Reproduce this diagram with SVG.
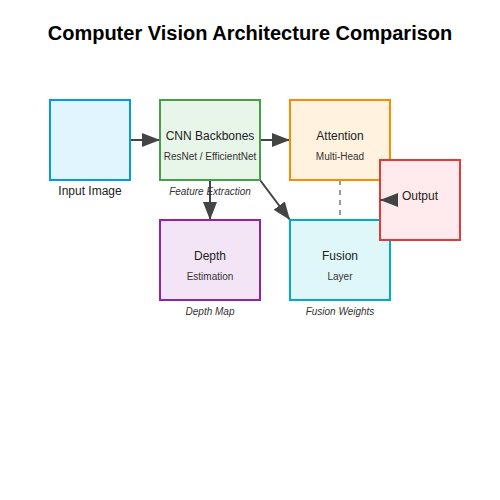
<svg xmlns="http://www.w3.org/2000/svg" width="500" height="500" viewBox="0 0 500 500">
<style>
.t{font-family:"Liberation Sans",Arial,sans-serif;fill:#222;text-anchor:middle}
.title{font-size:20px;font-weight:bold;fill:#000}
.lbl{font-size:12px}
.sub{font-size:10px;fill:#333}
.it{font-size:10px;font-style:italic;fill:#333}
.box{stroke-width:2}
.c{stroke:#444;stroke-width:2;fill:none}
</style>
<defs>
<marker id="ah" markerUnits="userSpaceOnUse" markerWidth="20" markerHeight="14" refX="18" refY="7" orient="auto">
<polygon points="0,0 18,7 0,14" fill="#444"/>
</marker>
</defs>
<rect width="500" height="500" fill="#fff"/>
<text class="t title" x="250" y="40">Computer Vision Architecture Comparison</text>
<g id="connectors">
<line class="c" x1="130" y1="140" x2="160" y2="140" marker-end="url(#ah)"/>
<line class="c" x1="260" y1="140" x2="290" y2="140" marker-end="url(#ah)"/>
<line class="c" x1="210" y1="180" x2="210" y2="220" marker-end="url(#ah)"/>
<line class="c" x1="260" y1="180" x2="290" y2="220" marker-end="url(#ah)"/>
<line x1="340" y1="180" x2="340" y2="220" stroke="#999" stroke-width="2" stroke-dasharray="5,5"/>
</g>
<g id="input">
<rect class="box" x="50" y="100" width="80" height="80" fill="#e1f5fe" stroke="#039be5"/>
<text class="t lbl" x="90" y="195">Input Image</text>
</g>
<g id="cnn">
<rect class="box" x="160" y="100" width="100" height="80" fill="#e8f5e9" stroke="#43a047"/>
<text class="t lbl" x="210" y="140">CNN Backbones</text>
<text class="t sub" x="210" y="160">ResNet / EfficientNet</text>
<text class="t it" x="210" y="195">Feature Extraction</text>
</g>
<g id="attention">
<rect class="box" x="290" y="100" width="100" height="80" fill="#fff3e0" stroke="#fb8c00"/>
<text class="t lbl" x="340" y="140">Attention</text>
<text class="t sub" x="340" y="160">Multi-Head</text>
</g>
<g id="depth">
<rect class="box" x="160" y="220" width="100" height="80" fill="#f3e5f5" stroke="#8e24aa"/>
<text class="t lbl" x="210" y="260">Depth</text>
<text class="t sub" x="210" y="280">Estimation</text>
<text class="t it" x="210" y="315">Depth Map</text>
</g>
<g id="fusion">
<rect class="box" x="290" y="220" width="100" height="80" fill="#e0f7fa" stroke="#00acc1"/>
<text class="t lbl" x="340" y="260">Fusion</text>
<text class="t sub" x="340" y="280">Layer</text>
<text class="t it" x="340" y="315">Fusion Weights</text>
</g>
<g id="output">
<rect class="box" x="380" y="160" width="80" height="80" fill="#ffebee" stroke="#e53935"/>
<text class="t lbl" x="420" y="200">Output</text>
</g>
<g id="connectors-top">
<line class="c" x1="398" y1="200" x2="380" y2="200" marker-end="url(#ah)" stroke-width="0"/>
</g>
</svg>
